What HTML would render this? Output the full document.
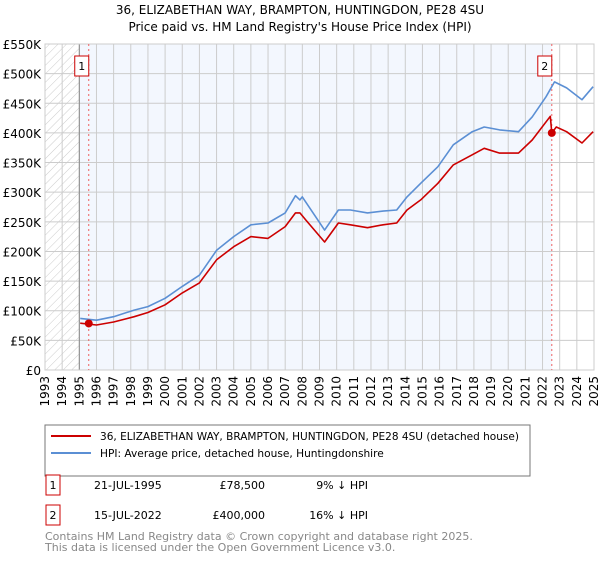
<!DOCTYPE html>
<html><head><meta charset="utf-8"><style>
body{margin:0;background:#fff;font-family:"DejaVu Sans","Liberation Sans",sans-serif;}
svg text{font-family:"DejaVu Sans","Liberation Sans",sans-serif;}
</style></head><body>
<svg id="c" width="600" height="560" xmlns="http://www.w3.org/2000/svg">
<defs><pattern id="hatch" width="6" height="6" patternUnits="userSpaceOnUse" patternTransform="rotate(45)"><line x1="0" y1="0" x2="0" y2="6" stroke="#ccc" stroke-width="1"/></pattern></defs>
<text x="300" y="14" text-anchor="middle" font-size="12">36, ELIZABETHAN WAY, BRAMPTON, HUNTINGDON, PE28 4SU</text>
<text x="300" y="31" text-anchor="middle" font-size="12">Price paid vs. HM Land Registry's House Price Index (HPI)</text>
<g id="plot"></g>
<rect x="45" y="425" width="485" height="51" fill="#fff" stroke="#777"/>
<line x1="51" y1="436" x2="91" y2="436" stroke="#cc0000" stroke-width="2"/>
<text x="100" y="440" font-size="10.5" textLength="419" lengthAdjust="spacingAndGlyphs">36, ELIZABETHAN WAY, BRAMPTON, HUNTINGDON, PE28 4SU (detached house)</text>
<line x1="51" y1="453" x2="91" y2="453" stroke="#5b8fd4" stroke-width="2"/>
<text x="100" y="457" font-size="10.6">HPI: Average price, detached house, Huntingdonshire</text>
<g>
<rect x="46" y="475" width="14" height="20" fill="#fff" stroke="#cc0000"/>
<text x="53" y="489" text-anchor="middle" font-size="11">1</text>
<text x="94" y="489" font-size="11">21-JUL-1995</text>
<text x="265" y="489" text-anchor="end" font-size="11">£78,500</text>
<text x="368" y="489" text-anchor="end" font-size="11">9% ↓ HPI</text></g>
<g>
<rect x="46" y="505" width="14" height="20" fill="#fff" stroke="#cc0000"/>
<text x="53" y="519" text-anchor="middle" font-size="11">2</text>
<text x="94" y="519" font-size="11">15-JUL-2022</text>
<text x="265" y="519" text-anchor="end" font-size="11">£400,000</text>
<text x="368" y="519" text-anchor="end" font-size="11">16% ↓ HPI</text></g>
<text x="45" y="540" font-size="11" fill="#888">Contains HM Land Registry data © Crown copyright and database right 2025.</text>
<text x="45" y="551" font-size="11" fill="#888">This data is licensed under the Open Government Licence v3.0.</text>
</svg>
<script>
const hpiYears=[1995.05,1996,1997,1998.2,1999,2000,2001,2002,2003,2004,2005,2006,2007,2007.6,2007.86,2008,2009.3,2010.1,2010.8,2011.8,2012.7,2013.5,2014.1,2014.9,2015.9,2016.8,2017.9,2018.6,2019.5,2020.6,2021.4,2022.2,2022.7,2023.4,2024.3,2024.95];
const hpiValues=[87,84,90,101,107,121,141,160,202,225,245,248,265,294,287,292,236,270,270,265,268,270,292,315,343,380,402,410,405,402,427,461,486,476,456,478];
const priceYears=[1995.05,1996,1997,1998.2,1999,2000,2001,2002,2003,2004,2005,2006,2007,2007.6,2007.86,2008.2,2009.3,2010.1,2010.8,2011.8,2012.7,2013.5,2014.1,2014.9,2015.9,2016.8,2017.9,2018.6,2019.5,2020.6,2021.4,2022.45,2022.54,2022.8,2023.4,2024.3,2024.95];
const priceValues=[79,76,81,90,97,110,130,147,186,208,225,222,242,265,265,253,216,248,245,240,245,248,270,287,315,346,363,374,366,366,388,428,400,410,402,383,402];
const saleYears=[1995.55,2022.54];
const saleValues=[78.5,400];
const yTicks=[0,50,100,150,200,250,300,350,400,450,500,550];
const yTickLabels=["£0","£50K","£100K","£150K","£200K","£250K","£300K","£350K","£400K","£450K","£500K","£550K"];
const xTicks=[];for(let y=1993;y<=2025;y++)xTicks.push(y);

const X0=45,X1=594,Y0=370,Y1=44;
const sx=v=>X0+(v-1993)/(2025-1993)*(X1-X0);
const sy=v=>Y0-v/550*(Y0-Y1);
const NS="http://www.w3.org/2000/svg";
const g=document.getElementById('plot');
function mk(t,a,p){const e=document.createElementNS(NS,t);for(const k in a)e.setAttribute(k,a[k]);(p||g).appendChild(e);return e;}
let bg=mk('rect',{x:sx(1995),y:Y1,width:sx(saleYears[1])-sx(1995),height:Y0-Y1,fill:'#f3f7fe'});


let ht=mk('rect',{x:X0,y:Y1,width:sx(1995)-X0,height:Y0-Y1,fill:'url(#hatch)'});


yTicks.forEach((t,i)=>{
  let l=mk('line',{x1:X0,x2:X1,y1:sy(t),y2:sy(t),stroke:'#ccc'});
  
  
  let tx=mk('text',{x:X0-4,y:sy(t)+5,'text-anchor':'end','font-size':'12'});tx.textContent=yTickLabels[i];
  
  
});
xTicks.forEach(t=>{
  let l=mk('line',{x1:sx(t),x2:sx(t),y1:Y1,y2:Y0,stroke:'#ccc'});
  
  
  let tx=mk('text',{x:0,y:0,'font-size':'12','text-anchor':'end',transform:`translate(${sx(t)+4},${Y0+6}) rotate(-90)`});tx.textContent=t;
  
  
});
let ax=mk('line',{x1:sx(1995),x2:sx(1995),y1:Y1,y2:Y0,stroke:'#888'});


let fr=mk('rect',{x:X0,y:Y1,width:X1-X0,height:Y0-Y1,fill:'none',stroke:'#ccc'});


saleYears.forEach((s,i)=>{
  let l=mk('line',{x1:sx(s),x2:sx(s),y1:Y1,y2:Y0,stroke:'#f06060','stroke-dasharray':'2,3'});
  
  
  let b=mk('rect',{x:sx(s)-14,y:56,width:14,height:20,fill:'#fff',stroke:'#cc0000'});
  
  
  let t=mk('text',{x:sx(s)-7,y:70,'text-anchor':'middle','font-size':'11'});t.textContent=String(i+1);
  
  
});
function line(xs,vs,col,name){
  let d=xs.map((x,i)=>(i?'L':'M')+sx(x).toFixed(1)+','+sy(vs[i]).toFixed(1)).join('');
  let p=mk('path',{d:d,fill:'none',stroke:col,'stroke-width':'1.6','stroke-linejoin':'round'});
  
  
}
line(hpiYears,hpiValues,'#5b8fd4','hpi-line');
line(priceYears,priceValues,'#cc0000','price-line');
saleYears.forEach((s,i)=>{
  let c=mk('circle',{cx:sx(s),cy:sy(saleValues[i]),r:4,fill:'#cc0000'});
  
  
});
</script>
</body></html>
